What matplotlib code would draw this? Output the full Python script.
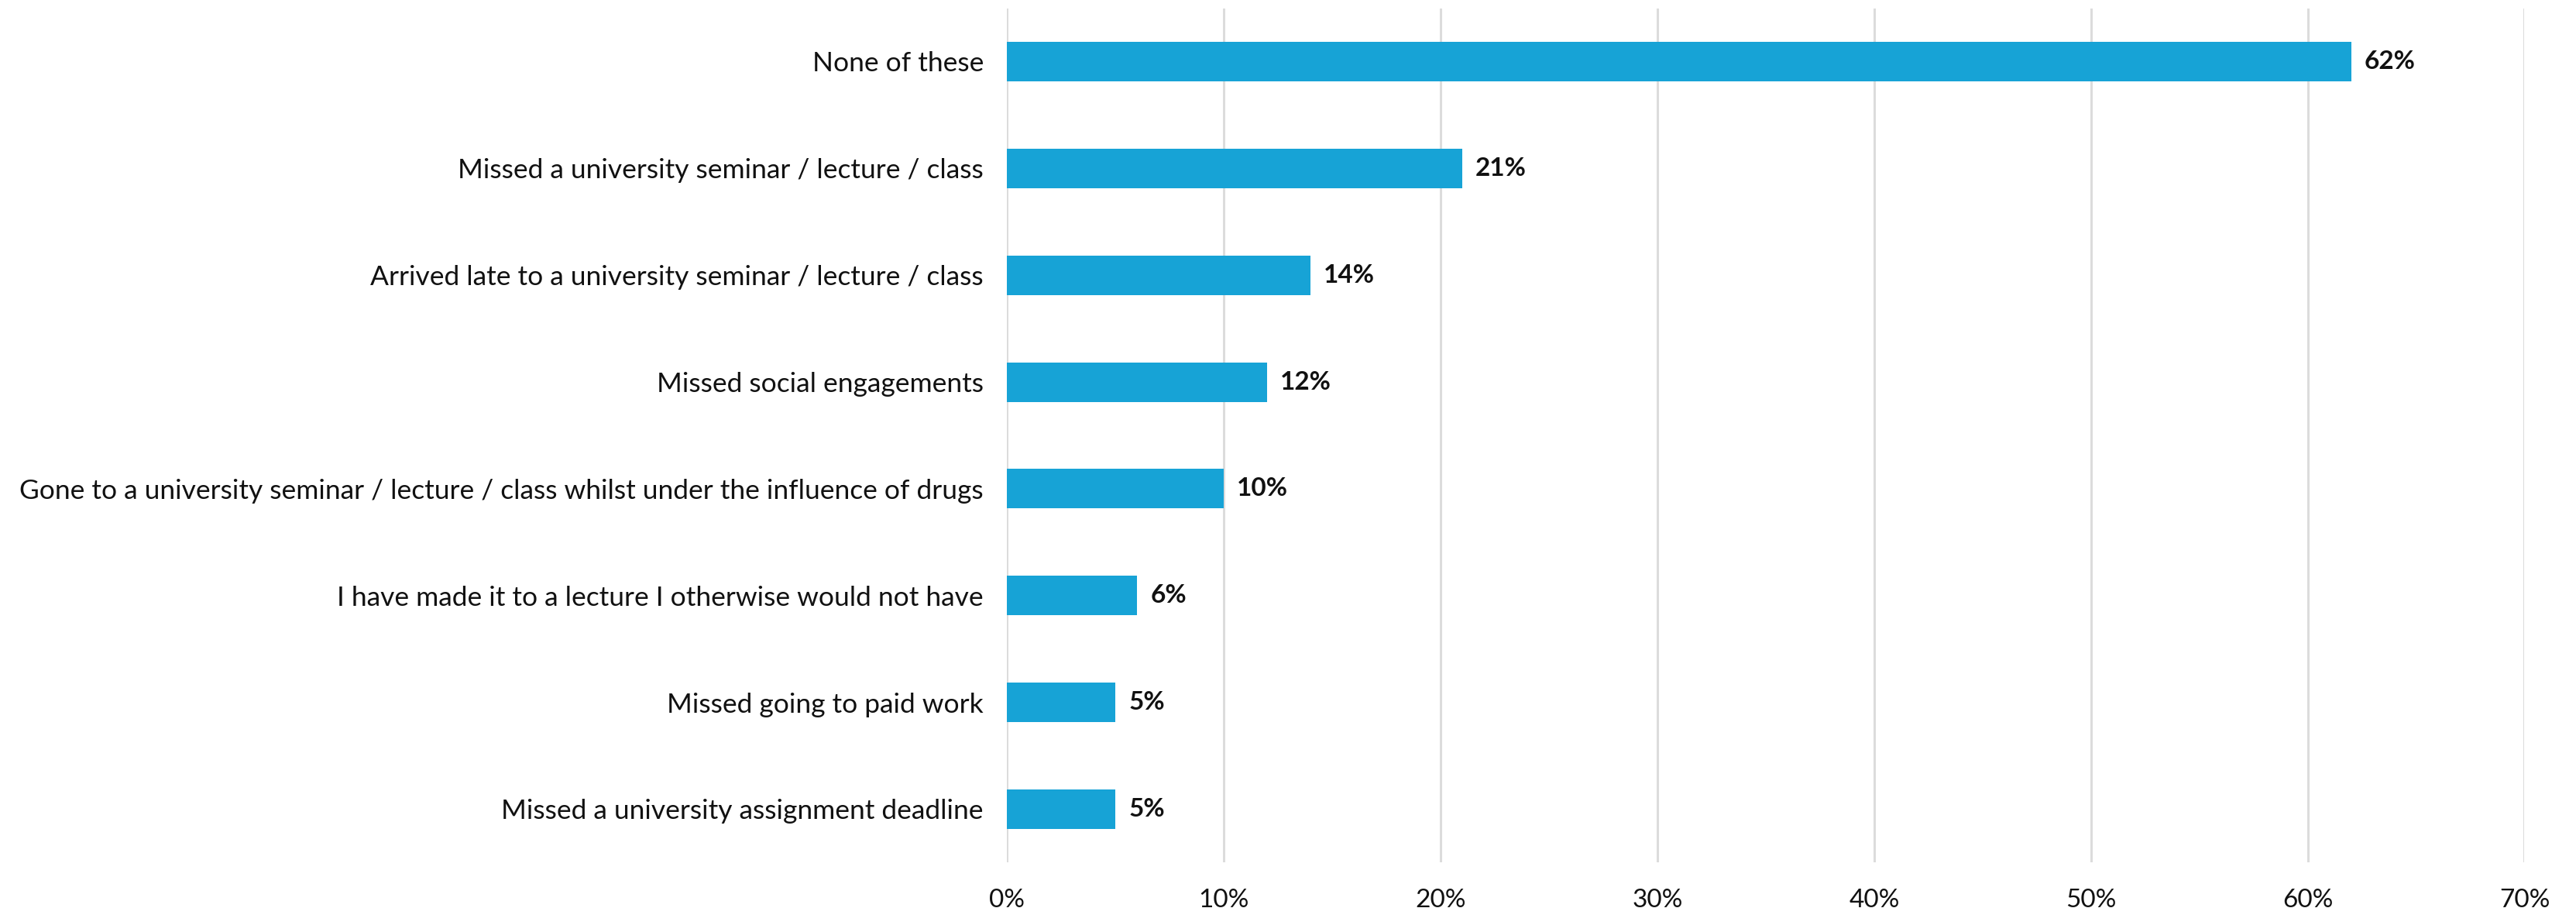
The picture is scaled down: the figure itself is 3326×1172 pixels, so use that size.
import matplotlib

matplotlib.use("Agg")
import matplotlib.pyplot as plt
from matplotlib.ticker import FuncFormatter, MultipleLocator

# categories top-to-bottom as in the chart
categories = [
    "None of these",
    "Missed a university seminar / lecture / class",
    "Arrived late to a university seminar / lecture / class",
    "Missed social engagements",
    "Gone to a university seminar / lecture / class whilst under the influence of drugs",
    "I have made it to a lecture I otherwise would not have",
    "Missed going to paid work",
    "Missed a university assignment deadline",
]
values = [62, 21, 14, 12, 10, 6, 5, 5]

BAR_COLOR = "#17a3d6"
GRID_COLOR = "#dcdcdc"
TEXT_COLOR = "#111111"

plt.rcParams["font.family"] = ["Lato", "DejaVu Sans"]

fig = plt.figure(figsize=(33.26, 11.72), dpi=100)
ax = fig.add_axes([0.391, 0.050, 0.589, 0.941])

ypos = list(range(len(categories)))
ax.barh(ypos, values, height=0.37, color=BAR_COLOR, zorder=3)

for y, v in zip(ypos, values):
    ax.text(v + 0.6, y, f"{v}%", va="center", ha="left",
            fontsize=24, fontweight="bold", color=TEXT_COLOR)

ax.set_xlim(0, 70)
ax.set_ylim(len(categories) - 0.5, -0.5)
ax.xaxis.set_major_locator(MultipleLocator(10))
ax.xaxis.set_major_formatter(FuncFormatter(lambda x, _: f"{x:.0f}%"))
ax.set_yticks(ypos)
ax.set_yticklabels(categories)

ax.grid(axis="x", color=GRID_COLOR, linewidth=2.2, zorder=0)
ax.set_axisbelow(True)
for s in ax.spines.values():
    s.set_visible(False)
ax.tick_params(axis="x", length=0, labelsize=24, colors=TEXT_COLOR, pad=24)
ax.tick_params(axis="y", length=0, labelsize=25.5, colors=TEXT_COLOR, pad=22)

fig.savefig("out.png", dpi=100)
